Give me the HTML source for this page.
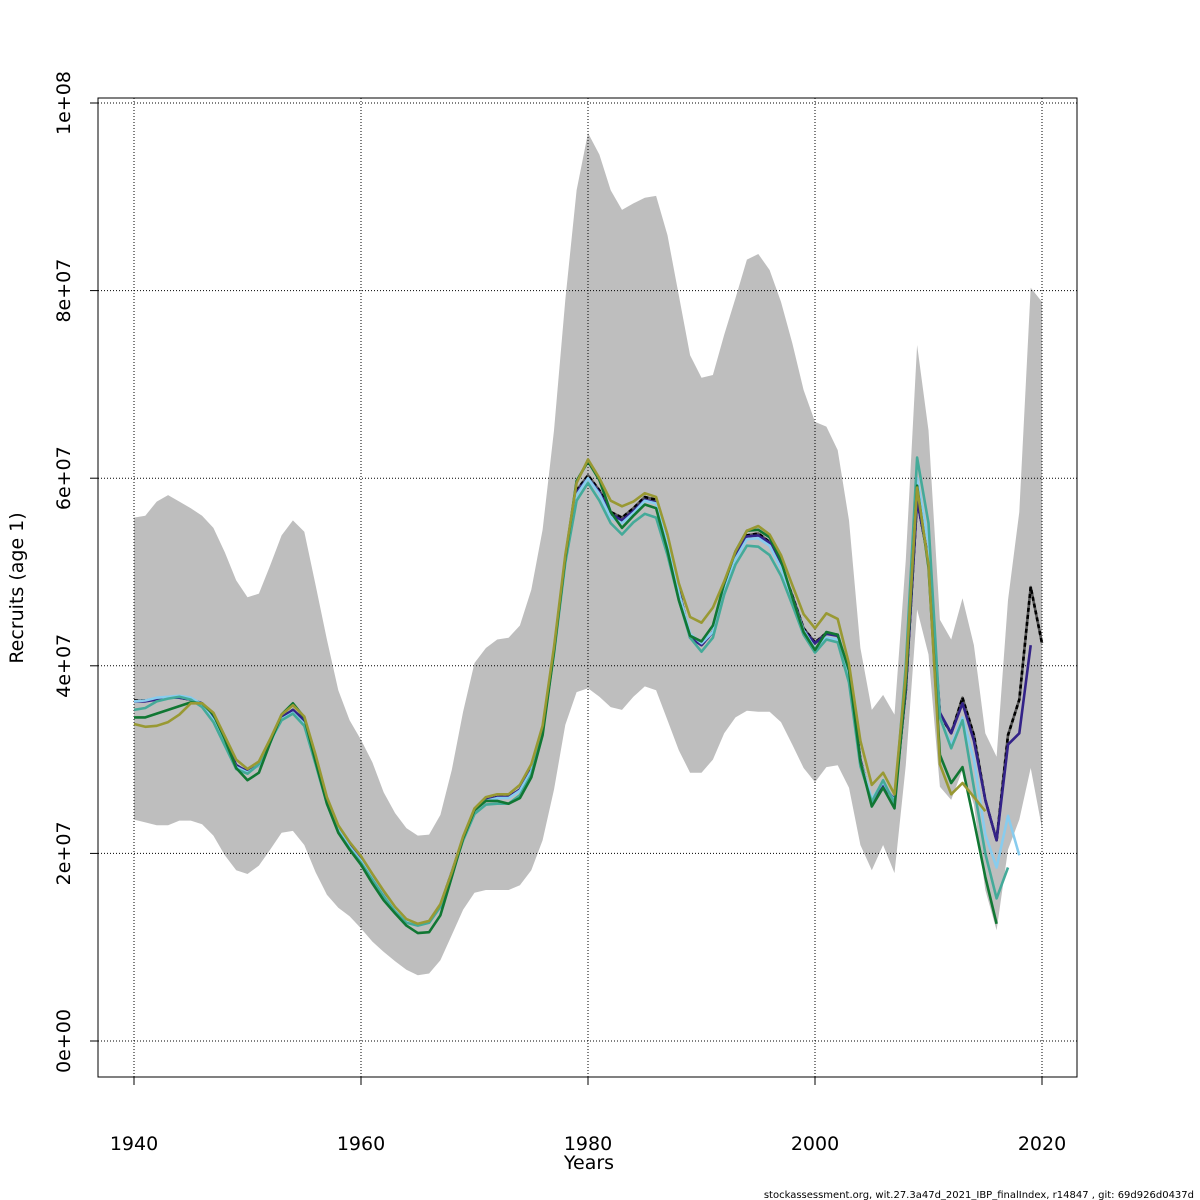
<!DOCTYPE html>
<html><head><meta charset="utf-8"><style>
body{margin:0;background:#fff;}
svg{display:block;font-family:"DejaVu Sans","Liberation Sans",sans-serif;}
</style></head><body>
<svg id="chart" width="1200" height="1200" viewBox="0 0 1200 1200" xmlns="http://www.w3.org/2000/svg">
<rect width="1200" height="1200" fill="#fff"/>
<g id="band"></g><g id="grid"></g><g id="series"></g><g id="axes"></g>
<text x="589" y="1169" font-size="19" text-anchor="middle">Years</text>
<text transform="translate(23,588) rotate(-90)" font-size="19" text-anchor="middle">Recruits (age 1)</text>
<text x="1194" y="1198" font-size="10" text-anchor="end">stockassessment.org, wit.27.3a47d_2021_IBP_finalIndex, r14847 , git: 69d926d0437d</text>
</svg>
<script>
const startYear = 1940;
const xTicks = [1940,1960,1980,2000,2020];
const yTicks = [0,20,40,60,80,100];
const yTickLabels = ["0e+00","2e+07","4e+07","6e+07","8e+07","1e+08"];
const upper = [55.8,56,57.5,58.2,57.5,56.8,56,54.7,52.1,49.1, 47.3,47.7,50.7,53.9,55.5,54.3,48.6,42.8,37.4,34.2, 32.1,29.7,26.5,24.3,22.7,21.9,22,24.1,28.9,35.1, 40.3,41.9,42.8,43,44.3,48.1,54.5,65.1,79,90.7, 96.8,94.5,90.7,88.6,89.3,89.9,90.1,85.9,79.5,73.1, 70.7,71,75.3,79.2,83.3,83.9,82.2,78.8,74.4,69.4, 66,65.5,63,55.5,41.9,35.3,36.9,34.8,51.3,74.2, 65.1,44.9,42.8,47.2,42.2,32.8,30.3,47,56.4,80.3,78.8];
const lower = [23.6,23.3,23,23,23.5,23.5,23.1,21.9,19.8,18.2, 17.8,18.7,20.4,22.2,22.4,20.9,18,15.6,14.2,13.3, 12,10.6,9.5,8.5,7.6,7,7.2,8.6,11.3,14, 15.8,16.1,16.1,16.1,16.6,18.2,21.4,26.8,33.7,37.2, 37.6,36.7,35.6,35.3,36.7,37.8,37.4,34.2,31,28.6, 28.6,30,32.8,34.5,35.2,35.1,35.1,34,31.6,29.1, 27.6,29.2,29.4,27,20.9,18.2,20.9,17.9,29.4,46, 41.2,27.1,25.7,28.9,25.2,16.1,11.8,20.4,23.6,29.1,22.7];
const base = [36.3,36.3,36.5,36.6,36.6,36.4,36,34.4,32,29.4, 28.7,29.4,31.9,34.5,35.3,34.2,30,25.7,22.7,20.9, 19.3,17.4,15.6,14,12.7,12.4,12.7,14.5,18,21.6, 24.6,25.7,26,26,26.8,28.9,33.2,41.7,51.3,58.7, 60.3,58.7,56.4,55.8,56.8,58,57.7,53.4,48.1,43.1, 42.2,43.6,48.1,51.8,53.9,54.1,53.2,50.7,47.5,44, 42.5,43.5,43.3,39,30,25.4,27.3,25.7,37.4,57.7, 51.3,34.8,32.8,36.6,32.6,25.7,21.4,32.6,36.4,48.4,42.4];
const darkBlue = [36.2,36.2,36.4,36.6,36.6,36.4,36,34.4,32,29.4, 28.7,29.4,31.9,34.5,35.3,34.2,30,25.7,22.7,20.9, 19.3,17.4,15.6,14,12.7,12.4,12.7,14.5,18,21.6, 24.6,25.7,26,26,26.8,28.9,33.2,41.7,51.3,58.5, 60,58.5,56.2,55.5,56.5,57.7,57.4,53.2,48,43, 42.2,43.6,48,51.7,53.8,53.9,53.1,50.6,47.4,43.8, 42.4,43.4,43.2,38.9,30,25.4,27.3,25.7,37.4,57.7, 51.3,35,32.8,36,32,25.7,21.4,31.6,32.8,42.2];
const lightBlue = [36.2,36.3,36.6,36.7,36.8,36.6,35.9,34.2,31.7,29.2, 28.6,29.4,31.8,34.3,35,33.8,29.8,25.5,22.5,20.7, 19.2,17.3,15.5,13.9,12.7,12.4,12.8,14.5,18,21.6, 24.6,25.6,25.9,25.9,26.7,28.8,33.2,41.6,51,58.2, 60,58.3,55.8,55.2,56.3,57.6,57.3,53,47.8,43.4, 42.4,43.6,47.9,51.4,53.5,53.6,52.8,50.4,47.2,43.8, 41.8,43,42.8,38.8,29.8,25.8,27.6,25.5,38.5,60, 53,34.5,31.5,34.5,30,22,18.5,24,19.8];
const teal = [35.3,35.5,36.2,36.5,36.7,36.4,35.6,34,31.5,29, 28.5,29.5,32,34.2,34.9,33.6,29.5,25.3,22.3,20.5, 19,17.2,15.4,13.8,12.6,12.3,12.6,14.3,17.8,21.4, 24.2,25.2,25.3,25.3,26.2,28.4,33,41.3,51,57.6, 59.5,57.6,55.2,54,55.3,56.2,55.8,51.8,47,43, 41.5,43,47.6,50.8,52.8,52.7,51.8,49.6,46.5,43.3, 41.4,42.8,42.5,38.2,29.3,25.5,27.8,25.3,40,62.2, 55.2,34.5,31.2,34.2,27,20,15.2,18.5];
const darkGreen = [34.5,34.5,34.9,35.3,35.7,36.1,36,34.8,32.2,29.1, 27.8,28.6,31.8,34.8,36,34.5,29.8,25.3,22.2,20.4, 18.8,16.8,15,13.6,12.3,11.5,11.6,13.4,17.5,21.6, 24.6,25.6,25.6,25.3,25.9,28.1,32.6,41.5,51.5,59.7, 61.8,59.8,56.4,54.7,56,57.2,56.8,52.3,47,43.2, 42.6,44.3,48.8,52.2,54.4,54.5,53.7,51.2,47.3,43.6, 41.7,43.6,43.3,39.5,29.8,25,27,24.8,38,59.2, 50.5,30.5,27.5,29.2,23.5,17.5,12.5];
const olive = [33.8,33.5,33.6,34,34.8,36,36,35,32.5,30, 29,29.8,32.2,34.8,35.8,34.6,30.5,26,23,21.2, 19.7,17.8,16,14.3,13,12.5,12.8,14.6,18,21.8, 24.8,26,26.3,26.3,27.3,29.5,33.6,42,51.8,59.5, 62,60,57.6,57,57.5,58.4,58,54,48.8,45.2, 44.6,46.2,49,52.2,54.4,54.9,54,51.8,48.6,45.5, 44,45.6,45,40.2,32,27.3,28.6,26.3,39,59, 50.8,29.5,26.3,27.5,26,24.5];

const NS="http://www.w3.org/2000/svg";
const L=98,R=1077,T=98,B=1077;
function xs(yr){return 134+(yr-1940)*(1042-134)/80;}
function ys(v){return 1041-v*(1041-103)/100;}
function mk(tag,attrs,parent){const e=document.createElementNS(NS,tag);for(const k in attrs)e.setAttribute(k,attrs[k]);parent.appendChild(e);return e;}

let d="";
upper.forEach((v,i)=>{d+=(i?"L":"M")+xs(startYear+i).toFixed(1)+","+ys(v).toFixed(1);});
for(let i=lower.length-1;i>=0;i--){d+="L"+xs(startYear+i).toFixed(1)+","+ys(lower[i]).toFixed(1);}
const band=mk("path",{d:d+"Z",fill:"#bebebe",stroke:"none"},document.getElementById("band"));



const g=document.getElementById("grid");
xTicks.forEach(t=>{const l=mk("line",{x1:xs(t),x2:xs(t),y1:T,y2:B,stroke:"#000","stroke-width":1,"stroke-dasharray":"1,2"},g);

});
yTicks.forEach(t=>{const l=mk("line",{x1:L,x2:R,y1:ys(t),y2:ys(t),stroke:"#000","stroke-width":1,"stroke-dasharray":"1,2"},g);

});

const sg=document.getElementById("series");
function line(arr,color,name,dash){
  let p="";arr.forEach((v,i)=>{p+=(i?"L":"M")+xs(startYear+i).toFixed(1)+","+ys(v).toFixed(1);});
  const e=mk("path",{d:p,fill:"none",stroke:color,"stroke-width":2.6,"stroke-linejoin":"round"},sg);
  if(dash)e.setAttribute("stroke-dasharray",dash);
  
  
}
line(base,"#555","base-series-line");
line(base,"#000","base-series-dashes","4,3");
line(darkBlue,"#332288","retro-2019-line");
line(lightBlue,"#88ccee","retro-2018-line");
line(teal,"#44aa99","retro-2017-line");
line(darkGreen,"#117733","retro-2016-line");
line(olive,"#999933","retro-2015-line");

const a=document.getElementById("axes");
const box=mk("rect",{x:L,y:T,width:R-L,height:B-T,fill:"none",stroke:"#000","stroke-width":1},a);


xTicks.forEach(t=>{
  mk("line",{x1:xs(t),x2:xs(t),y1:B,y2:B+8,stroke:"#000"},a);
  const tx=mk("text",{x:xs(t),y:1150,"font-size":19,"text-anchor":"middle"},a);tx.textContent=t;
  
  
});
yTicks.forEach((t,i)=>{
  mk("line",{x1:L-8,x2:L,y1:ys(t),y2:ys(t),stroke:"#000"},a);
  const tx=mk("text",{transform:"translate(70,"+ys(t)+") rotate(-90)","font-size":19,"text-anchor":"middle"},a);tx.textContent=yTickLabels[i];
  
  
});
</script>
</body></html>
